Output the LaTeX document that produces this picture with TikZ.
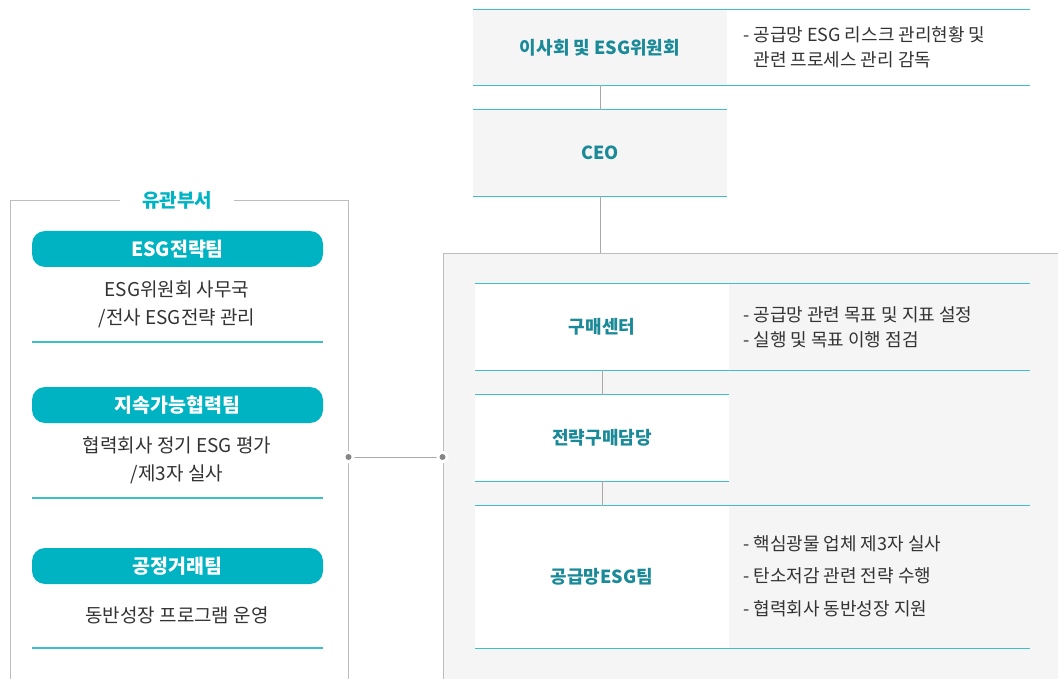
\documentclass[tikz,border=0pt]{standalone}
\usepackage{fontspec}
\setmainfont{Noto Sans CJK KR}
\begin{document}
\begin{tikzpicture}[x=1pt,y=-1pt,
  rowbox/.style={minimum width=254pt,inner sep=0pt,text=headteal,font=\fontsize{18}{21}\selectfont\bfseries},
  rowline/.style={draw=lineblue,line width=1.2pt},
  link/.style={draw=linegray,line width=0.9pt},
  desctext/.style={anchor=west,align=left,text=desc,inner sep=0pt},
  pill/.style={fill=pillblue,rounded corners=13pt,minimum width=291pt,minimum height=36pt,inner sep=0pt,text=white,font=\fontsize{19.5}{22}\selectfont\bfseries},
  sidetext/.style={align=center,text=desc,inner sep=0pt,font=\fontsize{19}{28}\selectfont}]
\definecolor{headteal}{HTML}{1B8A98}
\definecolor{lineblue}{HTML}{3DBFCB}
\definecolor{pillblue}{HTML}{00B3C3}
\definecolor{panelgray}{HTML}{F5F5F5}
\definecolor{bordergray}{HTML}{BDBDBD}
\definecolor{linegray}{HTML}{A8A8A8}
\definecolor{desc}{HTML}{333333}
\useasboundingbox (0,0) rectangle (1058,679);
\fill[white] (0,0) rectangle (1058,679);

% top: board and CEO
\node[rowbox,fill=panelgray,minimum height=75pt] (board) at (600,47.5) {이사회 및 ESG위원회};
\draw[rowline] (board.north west) -- ++(557,0);
\draw[rowline] (board.south west) -- ++(557,0);
\node[desctext,font=\fontsize{18}{25}\selectfont] (boarddesc) at (743,47) {- 공급망 ESG 리스크 관리현황 및\\\phantom{- }관련 프로세스 관리 감독};
\node[rowbox,fill=panelgray,minimum height=86pt] (ceo) at (600,153) {CEO};
\draw[rowline] (ceo.north west) -- (ceo.north east);
\draw[rowline] (ceo.south west) -- (ceo.south east);

% purchasing panel
\node[draw=bordergray,fill=panelgray,line width=1pt,minimum width=640pt,minimum height=460pt,inner sep=0pt] (panel) at (763,484) {};
\draw[link] (board.south) -- (ceo.north);
\draw[link] (ceo.south) -- (ceo.south |- panel.north);

\node[rowbox,fill=white,minimum height=86pt] (center) at (602,327) {구매센터};
\draw[rowline] (center.north west) -- ++(555,0);
\draw[rowline] (center.south west) -- ++(555,0);
\node[desctext,font=\fontsize{18}{25}\selectfont] (centerdesc) at (743,327) {- 공급망 관련 목표 및 지표 설정\\- 실행 및 목표 이행 점검};

\node[rowbox,fill=white,minimum height=86pt] (strategy) at (602,438) {전략구매담당};
\draw[rowline] (strategy.north west) -- (strategy.north east);
\draw[rowline] (strategy.south west) -- (strategy.south east);

\node[rowbox,fill=white,minimum height=142pt] (esgteam) at (602,577) {공급망ESG팀};
\draw[rowline] (esgteam.north west) -- ++(555,0);
\draw[rowline] (esgteam.south west) -- ++(555,0);
\node[desctext,font=\fontsize{18}{32.5}\selectfont] (esgdesc) at (743,576) {- 핵심광물 업체 제3자 실사\\- 탄소저감 관련 전략 수행\\- 협력회사 동반성장 지원};
\draw[link] (center.south) -- (strategy.north);
\draw[link] (strategy.south) -- (esgteam.north);

% related departments
\node[draw=bordergray,line width=1pt,minimum width=338pt,minimum height=520pt,inner sep=0pt] (side) at (179,461) {};
\node[fill=white,inner xsep=22pt,inner ysep=2pt,text=pillblue,font=\fontsize{19}{22}\selectfont\bfseries] (sidetitle) at (177,200) {유관부서};
\foreach \team/\y/\job/\dy/\ly in {ESG전략팀/249/{ESG위원회 사무국\\/전사 ESG전략 관리}/304/342,
  지속가능협력팀/405/{협력회사 정기 ESG 평가\\/제3자 실사}/460/498,
  공정거래팀/566/{동반성장 프로그램 운영}/615/648}
{ \node[pill] (pill\y) at (177.5,\y) {\team};
  \node[sidetext] (job\y) at (177,\dy) {\job};
  \draw[rowline] (pill\y.west |- 0,\ly) -- (pill\y.east |- 0,\ly);}

% link between panels
\coordinate (sidelink) at (side.east |- 0,457);
\coordinate (panellink) at (panel.west |- 0,457);
\draw[link] (sidelink) -- (panellink);
\foreach \end in {sidelink,panellink}
  {\fill[white] (\end) circle (6pt);
   \fill[linegray!80!black] (\end) circle (3pt);}
\end{tikzpicture}
\end{document}
